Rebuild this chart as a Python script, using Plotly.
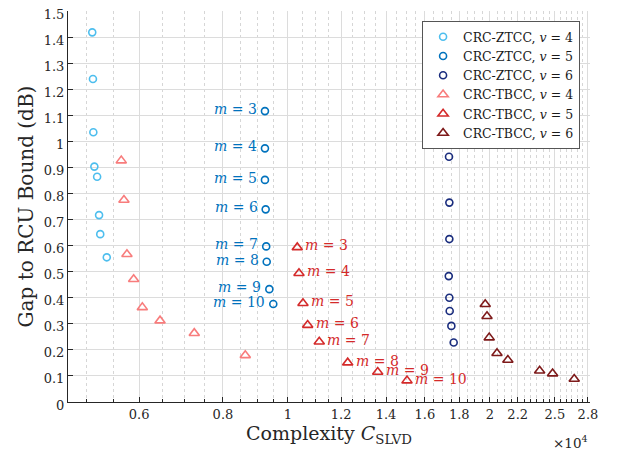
import math
import plotly.graph_objects as go

# ---- data (complexity in absolute units, gap in dB) ----
m_labels = [3, 4, 5, 6, 7, 8, 9, 10]

ztcc4_x = [5108, 5120, 5127, 5145, 5194, 5229, 5250, 5369]
ztcc4_y = [1.418, 1.239, 1.035, 0.903, 0.864, 0.717, 0.644, 0.555]

ztcc5_x = [9240, 9240, 9240, 9263, 9280, 9296, 9380, 9508]
ztcc5_y = [1.116, 0.973, 0.852, 0.739, 0.597, 0.538, 0.433, 0.376]

ztcc6_x = [17380, 17400, 17400, 17365, 17400, 17420, 17520, 17660]
ztcc6_y = [0.941, 0.765, 0.625, 0.483, 0.400, 0.349, 0.292, 0.228]

tbcc4_x = [5643, 5695, 5754, 5888, 6066, 6446, 7250, 8637]
tbcc4_y = [0.926, 0.775, 0.567, 0.471, 0.363, 0.312, 0.264, 0.179]

tbcc5_x = [10324, 10385, 10528, 10699, 11133, 12275, 13607, 15046]
tbcc5_y = [0.593, 0.494, 0.379, 0.295, 0.231, 0.151, 0.115, 0.082]

tbcc6_x = [19680, 19800, 19950, 20490, 21270, 23720, 24800, 26710]
tbcc6_y = [0.375, 0.329, 0.247, 0.187, 0.161, 0.120, 0.109, 0.088]

x_tickvals = [6000, 8000, 10000, 12000, 14000, 16000, 18000, 20000, 22000, 25000, 28000]
x_ticktext = ["0.6", "0.8", "1", "1.2", "1.4", "1.6", "1.8", "2", "2.2", "2.5", "2.8"]
x_minor = [v for v in range(5000, 28001, 500) if v not in x_tickvals]
y_tickvals = [round(0.1 * i, 1) for i in range(16)]
y_ticktext = ["0"] + [f"{v:g}" for v in y_tickvals[1:]]

FONT = "DejaVu Serif"
C_LB, C_B, C_DB = "#4DBEEE", "#0072BD", "#1A2D7E"
C_LR, C_R, C_DR = "#F87C7C", "#D42A2A", "#7E1A1A"

fig = go.Figure()

def add(x, y, color, symbol, name, size):
    fig.add_trace(go.Scatter(
        x=x, y=y, mode="markers", name=name,
        marker=dict(symbol=symbol, size=size, color=color,
                    line=dict(color=color, width=1.6)),
    ))

add(ztcc4_x, ztcc4_y, C_LB, "circle-open", "CRC-ZTCC, <i>v</i> = 4", 7)
add(ztcc5_x, ztcc5_y, C_B, "circle-open", "CRC-ZTCC, <i>v</i> = 5", 7)
add(ztcc6_x, ztcc6_y, C_DB, "circle-open", "CRC-ZTCC, <i>v</i> = 6", 7)
add(tbcc4_x, tbcc4_y, C_LR, "triangle-up-open", "CRC-TBCC, <i>v</i> = 4", 9)
add(tbcc5_x, tbcc5_y, C_R, "triangle-up-open", "CRC-TBCC, <i>v</i> = 5", 9)
add(tbcc6_x, tbcc6_y, C_DR, "triangle-up-open", "CRC-TBCC, <i>v</i> = 6", 9)

annotations = []
for m, x, y in zip(m_labels, ztcc5_x, ztcc5_y):
    annotations.append(dict(x=math.log10(x), y=y, xref="x", yref="y", text=f"<i>m</i> = {m}",
                            showarrow=False, xanchor="right", yanchor="middle",
                            xshift=-6, yshift=2,
                            font=dict(family=FONT, size=14, color=C_B)))
for m, x, y in zip(m_labels, tbcc5_x, tbcc5_y):
    annotations.append(dict(x=math.log10(x), y=y, xref="x", yref="y", text=f"<i>m</i> = {m}",
                            showarrow=False, xanchor="left", yanchor="middle",
                            xshift=6, yshift=2,
                            font=dict(family=FONT, size=14, color=C_R)))
annotations.append(dict(x=1.0, y=-0.075, xref="paper", yref="paper",
                        text="×10<sup>4</sup>", showarrow=False,
                        xanchor="right", yanchor="top",
                        font=dict(family=FONT, size=13.5, color="#262626")))

fig.update_layout(
    width=619, height=460,
    margin=dict(l=60, r=37, t=3, b=66, autoexpand=False),
    paper_bgcolor="white", plot_bgcolor="white",
    font=dict(family=FONT, size=13, color="#262626"),
    showlegend=True,
    legend=dict(x=0.981, y=0.974, xanchor="right", yanchor="top",
                bgcolor="white", bordercolor="#555555", borderwidth=1,
                font=dict(family=FONT, size=12.5, color="#1a1a1a"),
                tracegroupgap=0, itemsizing="trace"),
    annotations=annotations,
    xaxis=dict(
        type="log", range=[3.6721, 4.4502], automargin=False,
        tickmode="array", tickvals=x_tickvals, ticktext=x_ticktext,
        ticks="inside", ticklen=5, tickcolor="#262626",
        showline=True, linecolor="#262626", linewidth=1, mirror=False,
        showgrid=True, gridcolor="#DCDCDC", gridwidth=1,
        zeroline=False, ticklabeloverflow="allow",
        minor=dict(tickmode="array", tickvals=x_minor, ticks="inside", ticklen=3,
                   tickcolor="#262626", showgrid=True, gridcolor="#D6D6D6",
                   griddash="dot", gridwidth=1),
        title=dict(text="Complexity <i>C</i><sub>SLVD</sub>",
                   font=dict(family=FONT, size=19, color="#262626"), standoff=4),
        tickfont=dict(family=FONT, size=13, color="#262626"),
    ),
    yaxis=dict(
        range=[0, 1.5], automargin=False,
        tickmode="array", tickvals=y_tickvals, ticktext=y_ticktext,
        ticks="inside", ticklen=5, tickcolor="#262626",
        showline=True, linecolor="#262626", linewidth=1, mirror=False,
        showgrid=True, gridcolor="#DCDCDC", gridwidth=1,
        zeroline=False, ticklabeloverflow="allow", ticklabelshift=3,
        title=dict(text="Gap to RCU Bound (dB)",
                   font=dict(family=FONT, size=20, color="#262626"), standoff=4),
        tickfont=dict(family=FONT, size=13, color="#262626"),
    ),
)

fig.write_html("out.html")
